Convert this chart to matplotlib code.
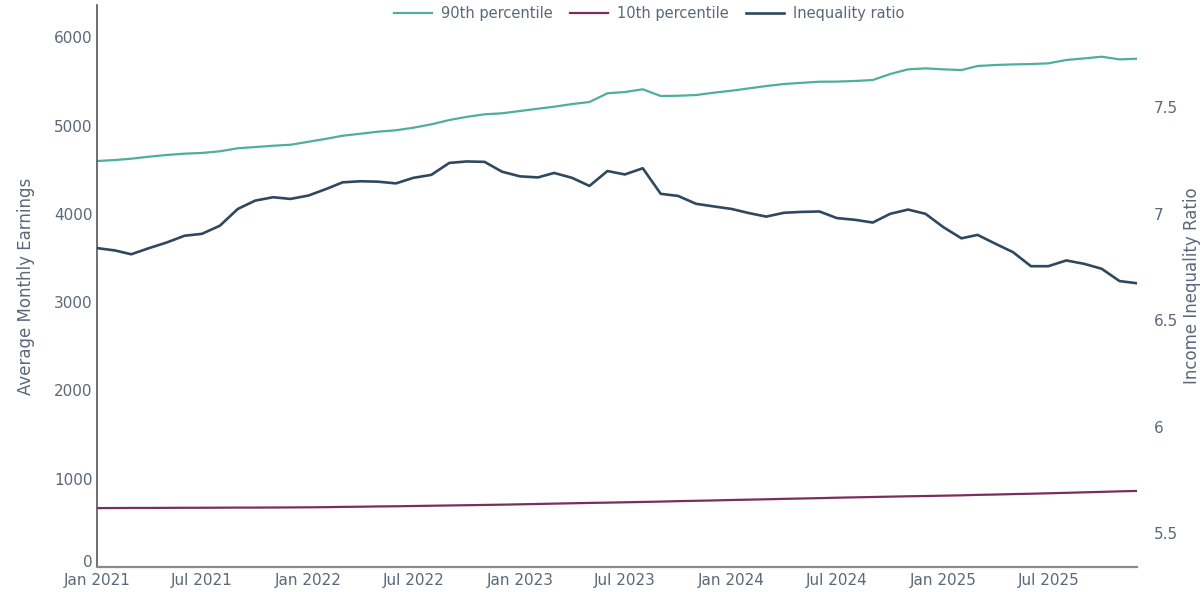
import numpy as np
import pandas as pd
import matplotlib
matplotlib.use('Agg')
import matplotlib.pyplot as plt
import matplotlib.dates as mdates
from matplotlib.ticker import FuncFormatter

# monthly series, Jan 2021 - Dec 2025
months = pd.date_range('2021-01-01', '2025-12-01', freq='MS')

p90 = [
    4598, 4609, 4624, 4647, 4666, 4681, 4689, 4708, 4742, 4756, 4771, 4782,
    4816, 4850, 4884, 4907, 4930, 4946, 4975, 5013, 5062, 5098, 5127, 5138,
    5164, 5190, 5213, 5243, 5266, 5365, 5379, 5410, 5334, 5337, 5345, 5371,
    5394, 5421, 5447, 5470, 5483, 5496, 5497, 5504, 5515, 5583, 5636, 5647,
    5636, 5628, 5674, 5685, 5692, 5696, 5704, 5742, 5760, 5779, 5749, 5756,
]

p10 = [
    667, 668, 669, 669, 670, 671, 671, 672, 673, 673, 674, 675,
    676, 678, 681, 683, 686, 688, 691, 694, 697, 700, 703, 706,
    710, 714, 718, 722, 726, 729, 733, 737, 741, 746, 750, 754,
    759, 763, 767, 772, 776, 780, 785, 789, 793, 797, 801, 804,
    808, 812, 817, 821, 826, 830, 835, 840, 846, 851, 857, 862,
]

ratio = [
    6.838, 6.827, 6.809, 6.838, 6.864, 6.896, 6.905, 6.943, 7.022, 7.061, 7.077, 7.069,
    7.085, 7.116, 7.147, 7.152, 7.150, 7.142, 7.168, 7.182, 7.238, 7.245, 7.243, 7.197,
    7.175, 7.170, 7.191, 7.168, 7.130, 7.200, 7.184, 7.213, 7.093, 7.083, 7.046, 7.034,
    7.022, 7.002, 6.986, 7.004, 7.008, 7.010, 6.979, 6.971, 6.958, 6.999, 7.019, 6.999,
    6.936, 6.884, 6.900, 6.858, 6.819, 6.753, 6.753, 6.780, 6.764, 6.741, 6.683, 6.673,
]

c90 = '#4fae9c'
c10 = '#7a2f5a'
cratio = '#2f4860'
txt = '#5a6878'

fig = plt.figure(figsize=(12.02, 5.92), dpi=100)
ax = fig.add_axes([0.0807, 0.0422, 0.8652, 0.9494])
ax2 = ax.twinx()

l1, = ax.plot(months, p90, color=c90, lw=1.6, label='90th percentile')
l2, = ax.plot(months, p10, color=c10, lw=1.6, label='10th percentile')
l3, = ax2.plot(months, ratio, color=cratio, lw=1.9, label='Inequality ratio')

ax.set_xlim(months[0], months[-1])
ax.set_ylim(0, 6365)
ax2.set_ylim(5.34, 7.98)

ax.set_yticks([0, 1000, 2000, 3000, 4000, 5000, 6000])
ax2.set_yticks([5.5, 6, 6.5, 7, 7.5])
ax2.yaxis.set_major_formatter(FuncFormatter(lambda v, _: f'{v:g}'))

ax.xaxis.set_major_locator(mdates.MonthLocator(bymonth=[1, 7]))
ax.xaxis.set_major_formatter(mdates.DateFormatter('%b %Y'))

for a in (ax, ax2):
    for s in a.spines.values():
        s.set_visible(False)
    a.tick_params(length=0, labelsize=11, colors=txt)

ax.spines['left'].set_visible(True)
ax.spines['left'].set_color('#555555')
ax.spines['left'].set_linewidth(1.2)
ax.spines['bottom'].set_visible(True)
ax.spines['bottom'].set_color('#8a8a8a')
ax.spines['bottom'].set_linewidth(1.6)

ax.tick_params(axis='y', pad=3)
ax.tick_params(axis='x', pad=4)
ax2.tick_params(axis='y', pad=12)

# sit the "0" label on the axis line so it clears the date labels
ax.get_yticklabels()[0].set_va('baseline')

ax.set_ylabel('Average Monthly Earnings', fontsize=12, color=txt, labelpad=14)
ax2.set_ylabel('Income Inequality Ratio', fontsize=12, color=txt, labelpad=4)

fig.legend(handles=[l1, l2, l3], loc='upper center', bbox_to_anchor=(0.54, 1.012),
           ncol=3, frameon=False, fontsize=10.5, labelcolor=txt,
           handlelength=2.6, columnspacing=1.2, handletextpad=0.6)

fig.savefig('out.png', dpi=100)
